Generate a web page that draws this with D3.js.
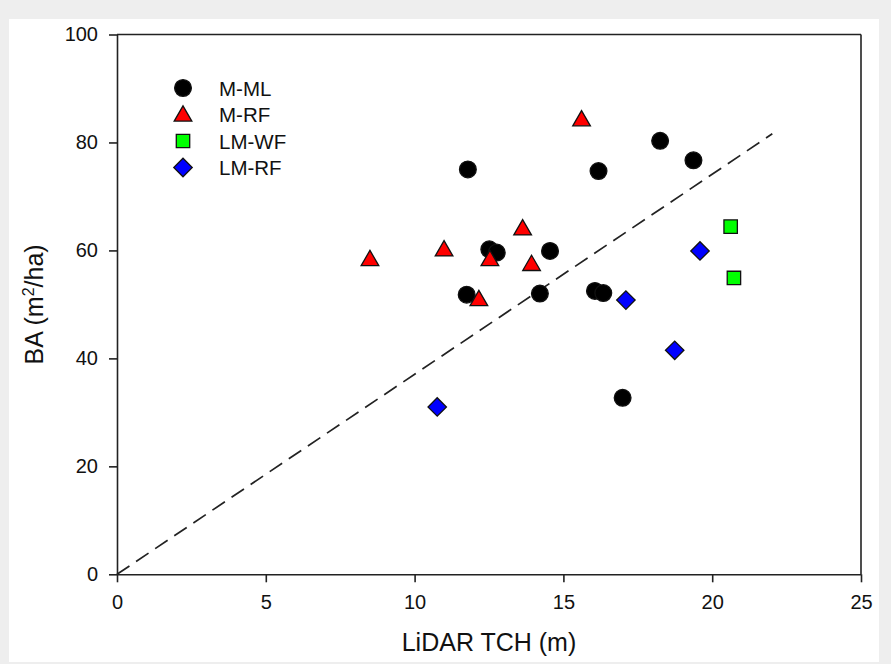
<!doctype html>
<html>
<head>
<meta charset="utf-8">
<style>
    body { margin: 0; background: #eeeeee; }
    svg { display: block; font-family: "Liberation Sans", Arial, sans-serif; }
</style>
<script src="https://d3js.org/d3.v7.min.js"></script>
</head>
<body>
<svg width="891" height="664"></svg>
<script>

    // values
    var mlX = [11.79, 11.75, 12.51, 12.76, 14.55, 14.21, 16.06, 16.34, 16.99, 16.18, 18.25, 19.37];
    var mlY = [75.0, 51.8, 60.2, 59.6, 59.9, 52.0, 52.5, 52.1, 32.7, 74.7, 80.3, 76.7];

    var rfX = [8.50, 10.99, 12.53, 12.16, 13.63, 13.93, 15.61];
    var rfY = [58.4, 60.2, 58.4, 51.0, 64.1, 57.5, 84.3];

    var wfX = [20.62, 20.73];
    var wfY = [64.4, 54.9];

    var lmrfX = [19.59, 17.10, 18.74, 10.76];
    var lmrfY = [59.9, 50.8, 41.5, 31.0];

    var lineX = [0, 22.02];
    var lineY = [0, 81.6];

    var xTicks = [0, 5, 10, 15, 20, 25];
    var yTicks = [0, 20, 40, 60, 80, 100];

    var svg = d3.select("svg");

    // white panel
    svg.append("rect")
       .attr("x", 9).attr("y", 19)
       .attr("width", 870).attr("height", 643)
       .attr("fill", "#ffffff");

    var pLeft = 117, pTop = 34.5, pRight = 861, pBottom = 574.3;

    var x = d3.scaleLinear().domain([0, 25]).range([pLeft, pRight]);
    var y = d3.scaleLinear().domain([0, 100]).range([pBottom, pTop]);

    var xAxis = svg.append("g")
       .attr("transform", "translate(0," + pBottom + ")")
       .call(d3.axisBottom(x).tickValues(xTicks).tickSizeOuter(0).tickSizeInner(8).tickPadding(13));

    var yAxis = svg.append("g")
       .attr("transform", "translate(" + pLeft + ",0)")
       .call(d3.axisLeft(y).tickValues(yTicks).tickSizeOuter(0).tickSizeInner(8).tickPadding(11));

    [xAxis, yAxis].forEach(function(a) {
        a.attr("font-size", null).attr("font-family", null);
        a.selectAll("path, line").attr("stroke", "#222").attr("stroke-width", 1.6);
        a.selectAll("text").style("font-size", "20px").attr("fill", "#111");
    });

    // top and right frame
    svg.append("line").attr("x1", pLeft).attr("x2", pRight).attr("y1", pTop).attr("y2", pTop)
       .attr("stroke", "#222").attr("stroke-width", 1.6);
    svg.append("line").attr("x1", pRight).attr("x2", pRight).attr("y1", pTop).attr("y2", pBottom)
       .attr("stroke", "#222").attr("stroke-width", 1.6);

    // axis titles
    svg.append("text")
       .attr("x", (pLeft + pRight) / 2).attr("y", 651)
       .attr("text-anchor", "middle").style("font-size", "25px").attr("fill", "#111")
       .text("LiDAR TCH (m)");

    var yt = svg.append("text")
       .attr("transform", "translate(43," + ((pTop + pBottom) / 2) + ") rotate(-90)")
       .attr("text-anchor", "middle").style("font-size", "25px").attr("fill", "#111");
    yt.append("tspan").text("BA (m");
    yt.append("tspan").attr("dy", -9).style("font-size", "16px").text("2");
    yt.append("tspan").attr("dy", 9).text("/ha)");

    // dashed reference line
    var lineData = d3.zip(lineX, lineY);
    svg.append("path")
       .datum(lineData)
       .attr("d", d3.line().x(function(d) { return x(d[0]); }).y(function(d) { return y(d[1]); }))
       .attr("fill", "none").attr("stroke", "#222").attr("stroke-width", 1.7)
       .attr("stroke-dasharray", "15,8");

    var sym = {
        circle: d3.symbol().type(d3.symbolCircle).size(220),
        triangle: d3.symbol().type(d3.symbolTriangle).size(135),
        square: d3.symbol().type(d3.symbolSquare).size(180),
        diamond: d3.symbol().type(d3.symbolSquare).size(170)
    };

    var series = [
        { name: "M-ML", xs: mlX, ys: mlY, shape: "circle", fill: "#000000" },
        { name: "M-RF", xs: rfX, ys: rfY, shape: "triangle", fill: "#ff0000" },
        { name: "LM-WF", xs: wfX, ys: wfY, shape: "square", fill: "#00ff00" },
        { name: "LM-RF", xs: lmrfX, ys: lmrfY, shape: "diamond", fill: "#0000ff" }
    ];

    function place(shape) {
        var rot = shape === "diamond" ? " rotate(45)" : "";
        var dy = shape === "triangle" ? 1.5 : 0;
        return function(d) { return "translate(" + d[0] + "," + (d[1] + dy) + ")" + rot; };
    }

    series.forEach(function(s) {
        var pts = d3.zip(s.xs, s.ys).map(function(d) { return [x(d[0]), y(d[1])]; });
        svg.append("g").selectAll("path")
           .data(pts)
           .enter().append("path")
           .attr("d", sym[s.shape])
           .attr("transform", place(s.shape))
           .attr("fill", s.fill)
           .attr("stroke", "#111").attr("stroke-width", 1.3);
    });

    // legend
    var legend = svg.append("g");
    series.forEach(function(s, i) {
        var ly = 88 + i * 26.5;
        legend.append("path")
           .attr("d", sym[s.shape])
           .attr("transform", place(s.shape)([183, ly]))
           .attr("fill", s.fill)
           .attr("stroke", "#111").attr("stroke-width", 1.3);
        legend.append("text")
           .attr("x", 219).attr("y", ly + 7.5)
           .style("font-size", "20.5px").attr("fill", "#111")
           .text(s.name);
    });
</script>
</body>
</html>
